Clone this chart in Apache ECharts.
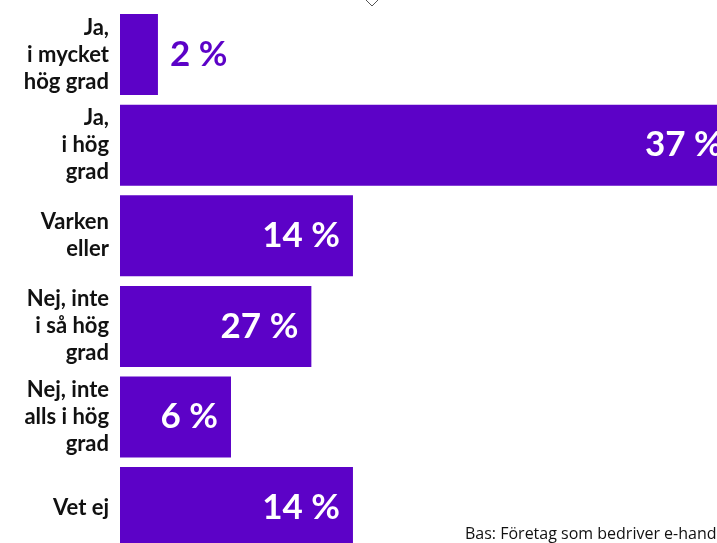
<!DOCTYPE html>
<html><head><meta charset="utf-8">
<style>html,body{margin:0;padding:0;background:#fff}#c{width:717px;height:543px}</style>
<script src="https://cdn.jsdelivr.net/npm/echarts@6/dist/echarts.min.js"></script>
</head><body><div id="c"></div>
<script>
const categories = ["Ja,\ni mycket\nhög grad", "Ja,\ni hög\ngrad", "Varken\neller", "Nej, inte\ni så hög\ngrad", "Nej, inte\nalls i hög\ngrad", "Vet ej"];
const barValues = [2.28, 37, 14, 11.5, 6.67, 14];
const labelTexts = ["2 %", "37 %", "14 %", "27 %", "6 %", "14 %"];
const footnote = "Bas: Företag som bedriver e-handel";

const purple = "#5c02c7";
const chart = echarts.init(document.getElementById('c'));
chart.setOption({
  animation: false,
  grid: { left: 120, top: 9.3, width: 665.6, height: 543.6, outerBoundsMode: 'none', containLabel: false },
  xAxis: { type: 'value', min: 0, max: 40, show: false },
  yAxis: {
    type: 'category', data: categories, inverse: true,
    axisLine: { show: false }, axisTick: { show: false },
    axisLabel: {
      margin: 11, align: 'right', color: '#111',
      fontFamily: 'Lato', fontWeight: 'bold', fontSize: 22, lineHeight: 27
    }
  },
  series: [{
    type: 'bar', barCategoryGap: '10.6%', clip: true,
    itemStyle: { color: purple },
    data: barValues.map((v, i) => i === 0 ? {
      value: v,
      label: { show: true, position: 'right', distance: 12, color: purple, formatter: () => labelTexts[i], fontFamily: 'Lato', fontWeight: 'bold', fontSize: 35 }
    } : {
      value: v,
      label: { show: true, position: 'insideRight', distance: 13, color: '#fff', formatter: () => labelTexts[i], fontFamily: 'Lato', fontWeight: 'bold', fontSize: 35 }
    })
  }],
  graphic: [
    { type: 'polyline', shape: { points: [[366, 0], [372, 6], [378, 0]] }, style: { stroke: '#555', lineWidth: 1, fill: null } },
    { type: 'text', left: 465, top: 526, style: { text: footnote, fontFamily: 'Open Sans', fontSize: 16, fill: '#111' } }
  ]
});
</script></body></html>
